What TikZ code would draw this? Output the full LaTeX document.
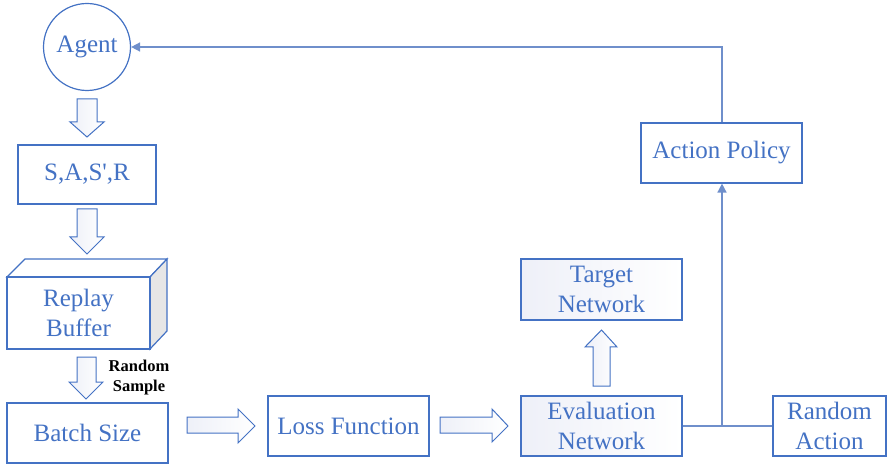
\documentclass[tikz,border=0pt]{standalone}
\usepackage{fontspec}
\setmainfont{Liberation Serif}[Ligatures=TeXOff]
\usetikzlibrary{arrows.meta}
\definecolor{ublue}{HTML}{4472C4}
\definecolor{lblue}{HTML}{6F8FCB}
\definecolor{shadeA}{HTML}{EEF0F8}
\definecolor{sidegray}{HTML}{E6E6E6}
\tikzset{
  box/.style={draw=ublue, line width=1.2pt, fill=white, text=ublue, font=\fontsize{25}{30}\selectfont, align=center, inner sep=0pt},
  shbox/.style={box, left color=shadeA, right color=white},
  hollow/.style={draw=ublue, line width=1pt, left color=shadeA, right color=white},
  link/.style={draw=lblue, line width=1.6pt},
  tip/.style={-{Triangle[length=9pt,width=9pt]}}
}
\begin{document}
\begin{tikzpicture}[x=1pt,y=-1pt]
\useasboundingbox (0,0) rectangle (887,465);
% nodes
\node[box, circle, minimum size=87pt] (agent) at (87,47) {Agent};
\node[box, minimum width=138pt, minimum height=59pt] (sasr) at (87,174.5) {S,A,S',R};
% replay buffer cuboid
\draw[draw=ublue, line width=1.2pt, fill=white] (7,277) -- (25,259) -- (167,259) -- (150,277) -- cycle;
\draw[draw=ublue, line width=1.2pt, fill=sidegray] (150,277) -- (167,259) -- (167,331) -- (150,349) -- cycle;
\node[box, minimum width=143pt, minimum height=72pt] (replay) at (78.5,313) {Replay\\Buffer};
\node[box, minimum width=161pt, minimum height=60pt] (batch) at (87.5,433) {Batch Size};
\node[box, minimum width=161pt, minimum height=60pt] (loss) at (348.5,426) {Loss Function};
\node[shbox, minimum width=161pt, minimum height=60pt] (eval) at (601.5,426) {Evaluation\\Network};
\node[shbox, minimum width=161pt, minimum height=61pt] (target) at (601.5,289.5) {Target\\Network};
\node[box, minimum width=113pt, minimum height=60pt] (rand) at (829.5,426) {Random\\Action};
\node[box, minimum width=161pt, minimum height=60pt] (policy) at (721.5,153) {Action Policy};
\node[font=\fontsize{16.5}{20}\selectfont\bfseries, align=center, inner sep=0pt] (rs) at (139,378) {Random\\Sample};
% hollow block arrows
\draw[hollow] (77,99) -- (97,99) -- (97,122) -- (104,122) -- (87,137) -- (70,122) -- (77,122) -- cycle;
\draw[hollow] (77,209) -- (97,209) -- (97,237) -- (104,237) -- (87,254) -- (70,237) -- (77,237) -- cycle;
\draw[hollow] (77,357) -- (96,357) -- (96,382) -- (103,382) -- (86,399) -- (69,382) -- (77,382) -- cycle;
\draw[hollow] (187,417) -- (238,417) -- (238,409) -- (255,426) -- (238,443) -- (238,433) -- (187,433) -- cycle;
\draw[hollow] (440,417) -- (492,417) -- (492,409) -- (508,426) -- (492,442) -- (492,433) -- (440,433) -- cycle;
\draw[hollow] (593,386) -- (610,386) -- (610,347) -- (617,347) -- (601.5,330) -- (585,347) -- (593,347) -- cycle;
% connectors
\coordinate (j) at (722,426);
\coordinate (c) at (722,47);
\draw[link] (eval.east) -- (rand.west);
\draw[link, tip] (j) -- (j |- policy.south);
\draw[link, tip] (c |- policy.north) -- (c) -- (agent.east);
\end{tikzpicture}
\end{document}
